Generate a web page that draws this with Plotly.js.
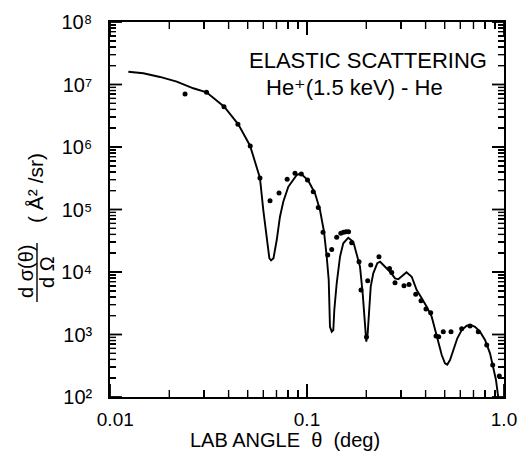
<!DOCTYPE html>
<html>
<head>
<meta charset="utf-8">
<script src="https://cdn.plot.ly/plotly-3.0.1.min.js"></script>
<style>
html,body{margin:0;padding:0;background:#fff;}
#chart{width:518px;height:459px;}
</style>
</head>
<body>
<div id="chart"></div>
<script>
// Measured data points (LAB angle in deg, cross section in Å^2/sr)
const dotAngle = [0.02404,0.0309,0.0379,0.0446,0.0515,0.0577,0.0649,0.0721,0.0793,0.0869,
  0.0936,0.1006,0.1076,0.1141,0.1206,0.1274,0.1335,0.1415,0.1485,0.1532,
  0.1578,0.1625,0.1686,0.1837,0.1880,0.2004,0.2033,0.2106,0.2319,0.2623,
  0.2692,0.2797,0.3107,0.3295,0.3563,0.3791,0.4018,0.4245,0.4517,0.4662,
  0.4918,0.5383,0.6099,0.6722,0.7403,0.8171,0.8762,0.9465];
const dotSigma = [7.05e6,7.53e6,4.42e6,2.32e6,1.04e6,3.19e5,1.38e5,1.84e5,3.04e5,3.80e5,
  3.70e5,2.96e5,1.93e5,1.08e5,4.32e4,1.87e4,2.29e4,3.59e4,4.16e4,4.32e4,
  4.41e4,4.41e4,2.94e4,1.46e4,5.15e3,9.1e2,7.26e3,1.29e4,1.76e4,1.14e4,
  9.8e3,6.74e3,6.04e3,6.31e3,4.40e3,3.47e3,2.56e3,2.23e3,9.46e2,9.2e2,
  1.11e3,1.11e3,1.24e3,1.37e3,1.11e3,6.8e2,3.25e2,2.17e2];

// Calculated curve
const curveAngle = [0.01239,0.01476,0.01794,0.02181,0.02648,0.0309,0.0380,0.0448,0.0514,0.0577,
  0.0600,0.0624,0.0644,0.0657,0.0676,0.0702,0.0729,0.0758,0.0804,0.0887,
  0.0929,0.1015,0.1098,0.1164,0.1220,0.1259,0.1289,0.1308,0.1335,0.1360,
  0.1376,0.1415,0.1471,0.1528,0.1620,0.1718,0.1788,0.1858,0.1917,0.1963,
  0.2000,0.2033,0.2064,0.2106,0.2170,0.2275,0.2350,0.2489,0.2638,0.2800,
  0.2907,0.3082,0.3200,0.3400,0.3605,0.3822,0.4051,0.4295,0.4464,0.4639,
  0.4830,0.5017,0.5150,0.5320,0.5528,0.5794,0.6099,0.6467,0.6780,0.7125,
  0.7555,0.8011,0.8492,0.8826,0.9107,0.9290,0.9400];
const curveSigma = [1.60e7,1.51e7,1.32e7,1.11e7,8.7e6,7.5e6,4.4e6,2.3e6,1.05e6,3.2e5,
  9.8e4,3.67e4,1.66e4,1.53e4,1.66e4,3.25e4,7.67e4,1.33e5,2.32e5,3.56e5,
  3.8e5,2.89e5,1.82e5,9.8e4,4.41e4,1.76e4,7.45e3,1.33e3,1.11e3,1.18e3,
  2.47e3,6.6e3,1.76e4,2.88e4,3.54e4,3.05e4,1.99e4,1.22e4,4.56e3,1.71e3,
  7.7e2,1.05e3,2.79e3,5.82e3,9.5e3,1.38e4,1.46e4,1.22e4,1.01e4,7.9e3,
  7.64e3,8.95e3,9.9e3,8.4e3,5.15e3,3.79e3,2.79e3,1.93e3,1.18e3,7.23e2,
  4.7e2,3.46e2,3.3e2,3.91e2,5.65e2,8.7e2,1.18e3,1.38e3,1.42e3,1.33e3,
  1.11e3,8.2e2,5.0e2,3.05e2,1.87e2,1.15e2,9.0e1];

// Tick labels
const xTickVals = [0.01, 0.1, 1.0];
const xTickText = ['\u00a0\u00a00.01', '0.1', '1.0'];
const yExponents = [2,3,4,5,6,7,8];
const SUP = ['\u2070','\u00b9','\u00b2','\u00b3','\u2074','\u2075','\u2076','\u2077','\u2078','\u2079'];

const yTickVals = yExponents.map(e => Math.pow(10, e));
const yTickText = yExponents.map(e => '10' + SUP[e]);

function minorTicks(lo, hi) {
  const out = [];
  for (let e = lo; e < hi; e++) {
    for (let m = 2; m <= 9; m++) out.push(m * Math.pow(10, e));
  }
  return out;
}

const FONT = 'Liberation Sans, DejaVu Sans, sans-serif';
const X_RANGE = [-2, 0];
const Y_RANGE = [2, 8];
const PLOT_W = 394, PLOT_H = 375;

// Tick marks drawn as paper-referenced shapes, positioned from the axis ranges
const tickShapes = [];
function xFrac(v) { return (Math.log10(v) - X_RANGE[0]) / (X_RANGE[1] - X_RANGE[0]); }
function yFrac(v) { return (Math.log10(v) - Y_RANGE[0]) / (Y_RANGE[1] - Y_RANGE[0]); }
function seg(x0, y0, x1, y1, w) {
  tickShapes.push({type: 'line', xref: 'paper', yref: 'paper', layer: 'above',
    x0: x0, y0: y0, x1: x1, y1: y1, line: {color: '#000', width: w}});
}
xTickVals.forEach(v => { const f = xFrac(v); const L = 13 / PLOT_H;
  seg(f, 0, f, L, 1.8); seg(f, 1, f, 1 - L, 1.8); });
minorTicks(-2, 0).forEach(v => { const f = xFrac(v); const L = 7 / PLOT_H;
  seg(f, 0, f, L, 1.4); seg(f, 1, f, 1 - L, 1.4); });
yTickVals.forEach(v => { const f = yFrac(v); const L = 12 / PLOT_W;
  seg(0, f, L, f, 1.8); seg(1, f, 1 - L, f, 1.8); });
minorTicks(2, 8).forEach(v => { const f = yFrac(v); const L = 6 / PLOT_W;
  seg(0, f, L, f, 1.4); seg(1, f, 1 - L, f, 1.4); });

const traces = [
  {
    x: curveAngle, y: curveSigma, type: 'scatter', mode: 'lines',
    line: {color: '#000', width: 1.9}, hoverinfo: 'skip', showlegend: false
  },
  {
    x: dotAngle, y: dotSigma, type: 'scatter', mode: 'markers',
    marker: {color: '#000', size: 5}, showlegend: false
  }
];

const axisCommon = {
  showgrid: false, zeroline: false,
  showline: true, linecolor: '#000', linewidth: 1.8,
  mirror: 'ticks', ticks: 'inside', tickcolor: '#000', tickwidth: 1.8,
  tickmode: 'array'
};

const layout = {
  width: 518, height: 459,
  margin: {l: 110, r: 14, t: 22, b: 62},
  paper_bgcolor: '#fff', plot_bgcolor: '#fff',
  font: {family: FONT, color: '#000'},
  showlegend: false,
  xaxis: Object.assign({}, axisCommon, {
    type: 'log', range: X_RANGE,
    tickvals: xTickVals, ticktext: xTickText, ticklen: 13,
    tickfont: {size: 19, family: FONT},
    ticklabelstandoff: 4,
    minor: {tickmode: 'array', tickvals: minorTicks(-2, 0), ticks: 'inside',
            ticklen: 7, tickcolor: '#000', tickwidth: 1.4}
  }),
  yaxis: Object.assign({}, axisCommon, {
    type: 'log', range: Y_RANGE,
    tickvals: yTickVals, ticktext: yTickText, ticklen: 12,
    tickfont: {size: 20, family: FONT},
    ticklabelstandoff: 12,
    minor: {tickmode: 'array', tickvals: minorTicks(2, 8), ticks: 'inside',
            ticklen: 6, tickcolor: '#000', tickwidth: 1.4}
  }),
  annotations: [
    {text: 'ELASTIC SCATTERING', xref: 'paper', yref: 'paper',
     x: (367.5 - 110) / 394, y: (397 - 60) / 375, xanchor: 'center', yanchor: 'middle',
     showarrow: false, font: {size: 22, family: FONT}},
    {text: 'He\u207a(1.5 keV) - He', xref: 'paper', yref: 'paper',
     x: (354 - 110) / 394, y: (397 - 87) / 375, xanchor: 'center', yanchor: 'middle',
     showarrow: false, font: {size: 22, family: FONT}},
    {text: 'LAB ANGLE  θ  (deg)', xref: 'paper', yref: 'paper',
     x: (285 - 110) / 394, y: (397 - 440) / 375, xanchor: 'center', yanchor: 'middle',
     showarrow: false, font: {size: 20, family: FONT}},
    {text: 'd σ(θ)', xref: 'paper', yref: 'paper', textangle: -90,
     x: (26 - 110) / 394, y: (397 - 272) / 375, xanchor: 'center', yanchor: 'middle',
     showarrow: false, font: {size: 20, family: FONT}},
    {text: 'd Ω', xref: 'paper', yref: 'paper', textangle: -90,
     x: (47 - 110) / 394, y: (397 - 272) / 375, xanchor: 'center', yanchor: 'middle',
     showarrow: false, font: {size: 20, family: FONT}},
    {text: '( Å\u00b2 /sr)', xref: 'paper', yref: 'paper', textangle: -90,
     x: (35 - 110) / 394, y: (397 - 188) / 375, xanchor: 'center', yanchor: 'middle',
     showarrow: false, font: {size: 21, family: FONT}}
  ],
  shapes: [
    {type: 'line', xref: 'paper', yref: 'paper',
     x0: (37 - 110) / 394, x1: (37 - 110) / 394,
     y0: (397 - 243) / 375, y1: (397 - 302) / 375,
     line: {color: '#000', width: 1.4}}
  ].concat(tickShapes)
};

Plotly.newPlot('chart', traces, layout, {displayModeBar: false, staticPlot: true});
</script>
</body>
</html>
